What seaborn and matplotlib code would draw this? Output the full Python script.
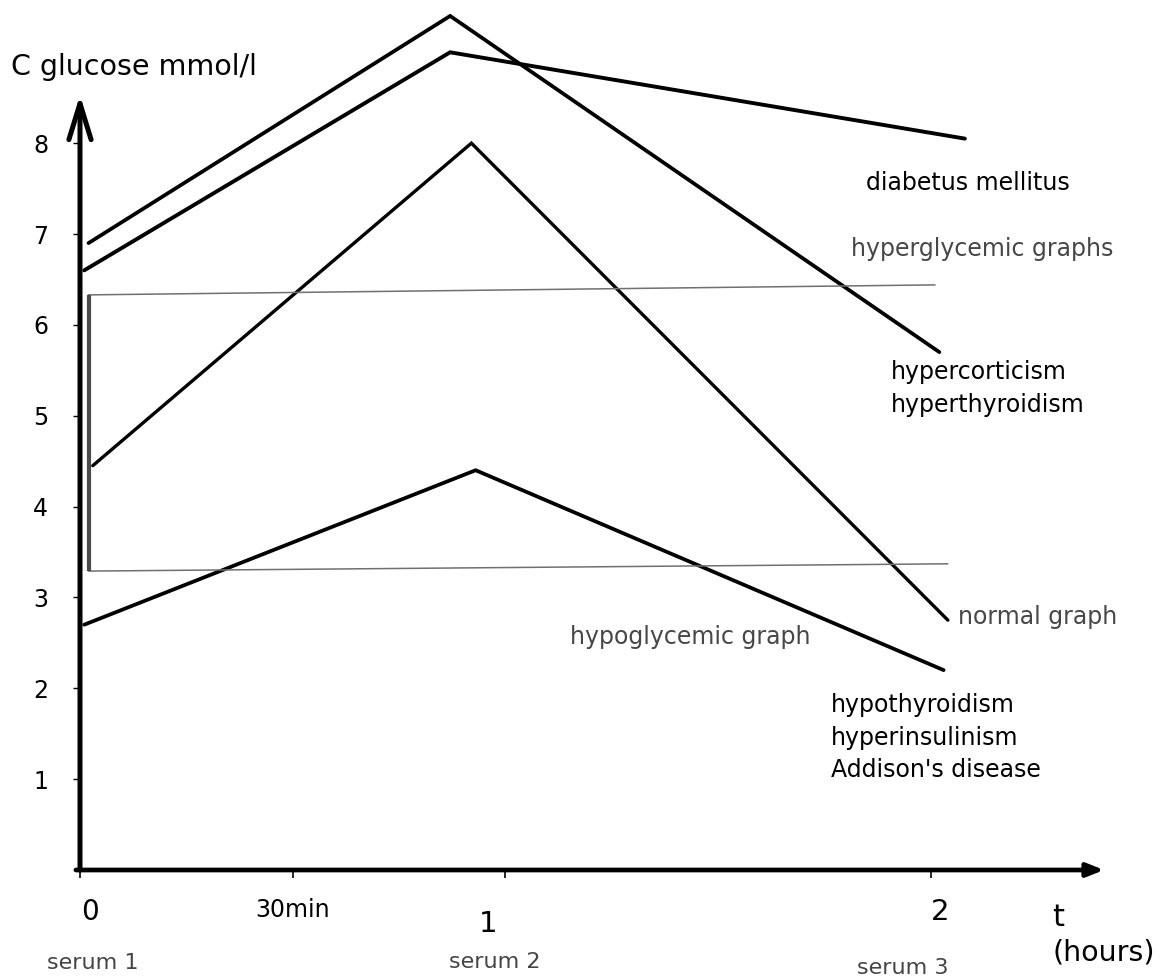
import numpy as np
import pandas as pd
import matplotlib
matplotlib.use("Agg")
import matplotlib.pyplot as plt
import matplotlib.transforms as mtransforms
import seaborn as sns

# ---------------- data (hours, glucose mmol/l) ----------------
hours_hyper = [0.02, 0.87, 2.02]      # hypercorticism / hyperthyroidism
gluc_hyper = [6.9, 9.4, 5.7]
hours_diab = [0.01, 0.87, 2.08]       # diabetus mellitus
gluc_diab = [6.6, 9.0, 8.05]
hours_norm = [0.03, 0.92, 2.04]       # normal graph
gluc_norm = [4.45, 8.0, 2.75]
hours_hypo = [0.01, 0.93, 2.03]       # hypoglycemic graph
gluc_hypo = [2.7, 4.4, 2.2]

upper_hours = [0.02, 2.01]
upper_gluc = [6.33, 6.44]
lower_hours = [0.02, 2.04]
lower_gluc = [3.29, 3.37]

xtick_vals = [0, 0.5, 1, 2]
xtick_labels = ["0", "30min", "1", "2"]
ytick_vals = [1, 2, 3, 4, 5, 6, 7, 8]
ytick_labels = ["1", "2", "3", "4", "5", "6", "7", "8"]
serum_labels = ["serum 1", "serum 2", "serum 3"]

# ---------------- figure ----------------
sns.set_theme(style="white")
plt.rcParams["font.family"] = ["DejaVu Sans"]

W, H = 1161, 976
fig = plt.figure(figsize=(W / 100, H / 100), dpi=100)
fig.patch.set_facecolor("white")
ax = fig.add_axes([80 / W, 1 - 870 / H, (1104 - 80) / W, (870 - 95) / H])
ax.set_facecolor("white")
ax.set_xlim(0, 2.407)
ax.set_ylim(0, 8.53)
for s in ax.spines.values():
    s.set_visible(False)


def fp(x, y):
    return (x / W, 1 - y / H)


curves = pd.DataFrame({
    "hours": hours_hyper + hours_diab + hours_norm + hours_hypo,
    "glucose": gluc_hyper + gluc_diab + gluc_norm + gluc_hypo,
    "curve": ["hyper"] * 3 + ["diab"] * 3 + ["norm"] * 3 + ["hypo"] * 3,
})
widths = {"hyper": 2.7, "diab": 2.8, "norm": 2.4, "hypo": 2.7}
for name, grp in curves.groupby("curve", sort=False):
    sns.lineplot(data=grp, x="hours", y="glucose", ax=ax, color="black",
                 lw=widths[name], sort=False, estimator=None, clip_on=False,
                 solid_joinstyle="miter")

sns.lineplot(x=upper_hours, y=upper_gluc, ax=ax, color="#707070", lw=1.1,
             sort=False, estimator=None)
sns.lineplot(x=lower_hours, y=lower_gluc, ax=ax, color="#707070", lw=1.1,
             sort=False, estimator=None)
ax.vlines(upper_hours[0], lower_gluc[0], upper_gluc[0], color="#4a4a4a", lw=3.0)

# axes with arrows
ax.annotate("", xy=(0, 1), xycoords="axes fraction", xytext=(0, 0),
            textcoords="axes fraction",
            arrowprops=dict(arrowstyle="->,head_length=1.3,head_width=0.4",
                            lw=3.6, color="black", shrinkA=0, shrinkB=0,
                            mutation_scale=20))
ax.annotate("", xy=(1, 0), xycoords="axes fraction", xytext=(-0.004, 0),
            textcoords="axes fraction",
            arrowprops=dict(arrowstyle="-|>,head_length=1.0,head_width=0.4",
                            lw=3.4, color="black", shrinkA=0, shrinkB=0,
                            mutation_scale=10))

# ticks
ax.set_xticks(xtick_vals)
ax.set_xticklabels(xtick_labels)
ax.set_yticks(ytick_vals)
ax.set_yticklabels(ytick_labels)
ax.tick_params(axis="x", direction="out", length=6, width=1.2, color="black",
               pad=14, labelsize=17, labelcolor="black", bottom=True)
ax.tick_params(axis="y", direction="out", length=5, width=1.0, color="black",
               pad=18, labelsize=17, labelcolor="black", left=True)
ax.set_xlabel("")
ax.set_ylabel("")

xl = ax.get_xticklabels()
xl[0].set_fontsize(20)
xl[0].set_transform(xl[0].get_transform() + mtransforms.ScaledTranslation(0.10, 0, fig.dpi_scale_trans))
xl[2].set_fontsize(21)
xl[2].set_transform(xl[2].get_transform() + mtransforms.ScaledTranslation(-0.17, -0.12, fig.dpi_scale_trans))
xl[3].set_fontsize(21)
xl[3].set_transform(xl[3].get_transform() + mtransforms.ScaledTranslation(0.09, 0, fig.dpi_scale_trans))

# axis labels
fig.text(*fp(11, 67), "C glucose mmol/l", fontsize=20.5, ha="left", va="center", color="black")
fig.text(*fp(1058, 917), "t", fontsize=22, ha="center", va="center", color="black")
fig.text(*fp(1104, 952), "(hours)", fontsize=20.5, ha="center", va="center", color="black")

serum_pos = [(93, 963), (495, 962), (903, 968)]
for lab, (x, y) in zip(serum_labels, serum_pos):
    fig.text(*fp(x, y), lab, fontsize=16, ha="center", va="center", color="#444444")

# annotations
black_notes = [
    ("diabetus mellitus", 866, 183),
    ("hypercorticism", 891, 372),
    ("hyperthyroidism", 891, 405),
    ("hypothyroidism", 831, 705),
    ("hyperinsulinism", 831, 738),
    ("Addison's disease", 831, 770),
]
for txt, x, y in black_notes:
    fig.text(*fp(x, y), txt, fontsize=17, ha="left", va="center", color="black")

gray_notes = [
    ("hyperglycemic graphs", 851, 249),
    ("normal graph", 958, 617),
    ("hypoglycemic graph", 570, 637),
]
for txt, x, y in gray_notes:
    fig.text(*fp(x, y), txt, fontsize=17, ha="left", va="center", color="#474747")

fig.savefig("out.png", dpi=100, facecolor="white")
